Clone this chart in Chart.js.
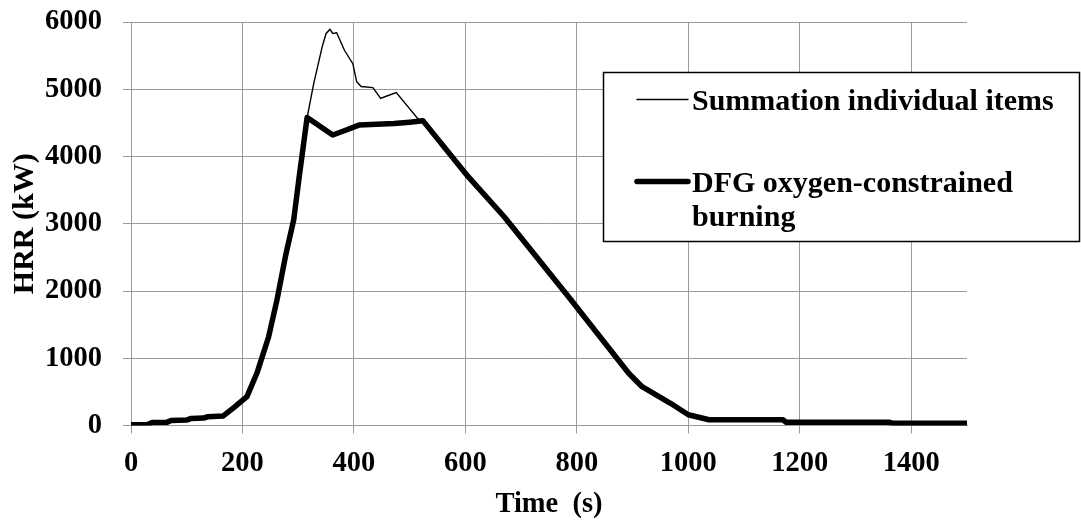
<!DOCTYPE html>
<html>
<head>
<meta charset="utf-8">
<script src="https://cdn.jsdelivr.net/npm/chart.js@4.4.1/dist/chart.umd.min.js"></script>
<style>
  html, body { margin: 0; padding: 0; background: #ffffff; }
  #wrap { width: 1081px; height: 523px; position: relative; }
</style>
</head>
<body>
<div id="wrap"><canvas id="c" width="1081" height="523"></canvas></div>
<script>
// ---- data ----
const xTitle = 'Time  (s)';
const yTitle = 'HRR (kW)';
const seriesNames = ['Summation individual items', 'DFG oxygen-constrained burning'];

const timeDFG = [0, 30, 38, 65, 72, 100, 108, 130, 138, 165, 185, 208, 226, 247, 262, 277, 292, 301, 316,
  362, 385, 410, 440, 472, 500, 524, 605, 670, 785, 893, 917, 968, 1000, 1037, 1170, 1175, 1360, 1365, 1500];
const hrrDFG = [10, 15, 45, 50, 75, 80, 105, 110, 130, 140, 270, 430, 780, 1320, 1870, 2510, 3060, 3650, 4580,
  4320, 4390, 4470, 4480, 4490, 4510, 4530, 3700, 3100, 1915, 776, 577, 330, 160, 85, 85, 50, 50, 35, 35];

const timeSum = [0, 30, 38, 65, 72, 100, 108, 130, 138, 165, 185, 208, 226, 247, 262, 277, 292, 301, 316,
  328, 343, 350, 357, 362, 369, 383, 398, 405, 413, 434, 448, 459, 476, 515, 524,
  605, 670, 785, 893, 917, 968, 1000, 1037, 1170, 1175, 1360, 1365, 1500];
const hrrSum = [10, 15, 45, 50, 75, 80, 105, 110, 130, 140, 270, 430, 780, 1320, 1870, 2510, 3060, 3650, 4580,
  5090, 5630, 5830, 5890, 5830, 5840, 5580, 5380, 5110, 5040, 5025, 4865, 4900, 4950, 4560, 4530,
  3700, 3100, 1915, 776, 577, 330, 160, 85, 85, 50, 50, 35, 35];

const xTicks = [0, 200, 400, 600, 800, 1000, 1200, 1400];
const yTicks = [0, 1000, 2000, 3000, 4000, 5000, 6000];
const xMin = 0, xMax = 1500;
const yMin = 0, yMax = 6000;

// ---- chart ----
const toPts = (xs, ys) => xs.map((x, i) => ({ x: x, y: ys[i] }));
const FONT = 'Liberation Serif, "Times New Roman", serif';
const GRID = '#9a9a9a';

const legendBox = {
  id: 'legendBox',
  afterDraw(chart) {
    const ctx = chart.ctx;
    const ds = chart.data.datasets;
    ctx.save();
    ctx.fillStyle = '#ffffff';
    ctx.fillRect(603, 72, 477, 170);
    ctx.strokeStyle = '#000000';
    ctx.lineWidth = 1.5;
    ctx.strokeRect(603.5, 72.5, 476, 169);
    const samples = [{ y: 99.5, ds: ds[0] }, { y: 181.5, ds: ds[1] }];
    samples.forEach(s => {
      ctx.beginPath();
      ctx.strokeStyle = s.ds.borderColor;
      ctx.lineWidth = s.ds.borderWidth;
      ctx.lineCap = 'round';
      ctx.moveTo(637, s.y);
      ctx.lineTo(688, s.y);
      ctx.stroke();
    });
    ctx.fillStyle = '#000000';
    ctx.font = 'bold 30px ' + FONT;
    ctx.textBaseline = 'alphabetic';
    ctx.textAlign = 'left';
    ctx.fillText(ds[0].label, 692, 110);
    const words = ds[1].label.split(' ');
    ctx.fillText(words.slice(0, 2).join(' '), 692, 191.5);
    ctx.fillText(words.slice(2).join(' '), 692, 225.5);
    ctx.restore();
  }
};

new Chart(document.getElementById('c'), {
  type: 'line',
  data: {
    datasets: [
      {
        label: seriesNames[0],
        data: toPts(timeSum, hrrSum),
        borderColor: '#000000',
        borderWidth: 1.4,
        pointRadius: 0,
        tension: 0,
        fill: false,
        order: 2
      },
      {
        label: seriesNames[1],
        data: toPts(timeDFG, hrrDFG),
        borderColor: '#000000',
        borderWidth: 5.5,
        borderJoinStyle: 'round',
        borderCapStyle: 'round',
        pointRadius: 0,
        tension: 0,
        fill: false,
        order: 1
      }
    ]
  },
  options: {
    responsive: false,
    animation: false,
    devicePixelRatio: 1,
    layout: { padding: { left: 0, right: 114, top: 22, bottom: 0 } },
    plugins: {
      legend: { display: false },
      tooltip: { enabled: false },
      title: { display: false }
    },
    scales: {
      x: {
        type: 'linear',
        min: xMin, max: xMax,
        afterBuildTicks: (axis) => { axis.ticks = xTicks.map(v => ({ value: v })); },
        afterFit: (scale) => { scale.height = 97.5; scale.paddingLeft = 0; scale.paddingRight = 0; },
        ticks: {
          color: '#000000',
          padding: 13,
          maxRotation: 0,
          autoSkip: false,
          includeBounds: false,
          callback: (v) => String(v),
          font: { family: FONT, size: 28.5, weight: 'bold' }
        },
        grid: { color: GRID, lineWidth: 1, tickLength: 8, tickColor: GRID, drawTicks: true },
        border: { display: true, color: GRID, width: 1 },
        title: {
          display: true,
          text: xTitle,
          color: '#000000',
          font: { family: FONT, size: 28.5, weight: 'bold' },
          padding: { top: 0, bottom: 1 }
        }
      },
      y: {
        type: 'linear',
        min: yMin, max: yMax,
        afterBuildTicks: (axis) => { axis.ticks = yTicks.map(v => ({ value: v })); },
        afterFit: (scale) => { scale.width = 131; scale.paddingTop = 0; scale.paddingBottom = 0; },
        ticks: {
          color: '#000000',
          padding: 21,
          callback: (v) => String(v),
          font: { family: FONT, size: 28.5, weight: 'bold' }
        },
        grid: { color: GRID, lineWidth: 1, tickLength: 8, tickColor: GRID, drawTicks: true },
        border: { display: true, color: GRID, width: 1 },
        title: {
          display: true,
          text: yTitle,
          color: '#000000',
          font: { family: FONT, size: 30, weight: 'bold' },
          padding: { top: 7, bottom: 0 }
        }
      }
    }
  },
  plugins: [legendBox]
});
</script>
</body>
</html>
